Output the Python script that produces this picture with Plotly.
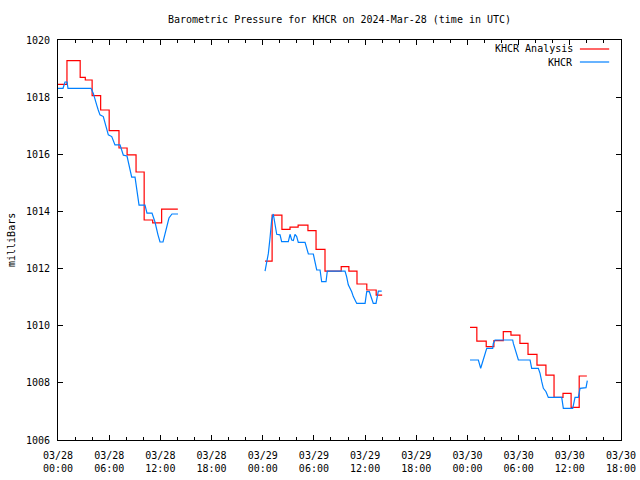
import numpy as np
import plotly.graph_objects as go

# ---- data (hours since 2024-03-28 00:00 UTC, pressure in mb) ----
red_h1 = [0.0, 1.05, 2.6, 3.2, 4.0, 5.0, 6.0, 7.15, 8.1, 9.15, 10.1, 11.1, 12.15, 14.05]
red_v1 = [1018.45, 1019.28, 1018.69, 1018.6, 1018.05, 1017.55, 1016.83, 1016.22, 1015.98, 1015.38, 1013.7, 1013.6, 1014.08, 1014.08]
red_h2 = [24.27, 25.1, 26.25, 27.2, 28.15, 29.3, 30.25, 31.3, 33.2, 34.1, 35.05, 36.2, 37.3, 38.0]
red_v2 = [1012.26, 1013.87, 1013.37, 1013.45, 1013.52, 1013.33, 1012.67, 1011.91, 1012.07, 1011.91, 1011.46, 1011.25, 1011.07, 1011.07]
red_h3 = [48.3, 49.1, 50.2, 51.1, 52.2, 53.1, 54.15, 55.1, 56.15, 57.2, 58.15, 59.2, 60.15, 61.1, 62.0]
red_v3 = [1009.94, 1009.46, 1009.27, 1009.48, 1009.79, 1009.67, 1009.38, 1009.0, 1008.62, 1008.27, 1007.49, 1007.63, 1007.14, 1008.24, 1008.24]

blue_h1 = [0, 0.59, 0.82, 1.06, 1.17, 3.87, 4.14, 4.34, 4.54, 4.72, 4.92, 5.31, 5.51, 5.71, 5.90, 6.30, 6.48,
           6.68, 7.27, 7.66, 8.09, 8.44, 8.64, 9.03, 9.26, 9.50, 10.2, 10.43, 11.02, 11.37, 11.72, 11.96,
           12.31, 12.66, 13.01, 13.36, 14.07]
blue_v1 = [1018.31, 1018.31, 1018.53, 1018.53, 1018.31, 1018.31, 1018.13, 1017.96, 1017.72, 1017.55, 1017.38,
           1017.32, 1017.10, 1016.85, 1016.68, 1016.62, 1016.50, 1016.33, 1016.33, 1015.97, 1015.94, 1015.38,
           1015.20, 1015.20, 1014.68, 1014.22, 1014.22, 1013.94, 1013.94, 1013.63, 1013.18, 1012.93, 1012.93,
           1013.35, 1013.77, 1013.91, 1013.91]
blue_h2 = [24.27, 24.46, 24.66, 24.85, 25.05, 25.24, 25.44, 25.64, 26.03, 26.22, 27.0, 27.2, 27.4, 27.59, 27.78,
           27.98, 28.17, 28.96, 29.35, 29.93, 30.33, 30.72, 30.91, 31.42, 31.57, 33.65, 33.84, 34.03, 34.43,
           34.62, 35.02, 36.0, 36.19, 36.5, 36.96, 37.28, 37.55, 37.95]
blue_v2 = [1011.91, 1012.24, 1012.53, 1013.06, 1013.70, 1013.91, 1013.47, 1013.20, 1013.18, 1012.94, 1012.94,
           1013.20, 1013.0, 1012.98, 1013.20, 1013.12, 1012.92, 1012.92, 1012.51, 1012.51, 1011.95, 1011.95,
           1011.54, 1011.54, 1011.91, 1011.91, 1011.71, 1011.43, 1011.19, 1011.02, 1010.78, 1010.78, 1011.19,
           1011.19, 1010.78, 1010.78, 1011.21, 1011.21]
blue_h3 = [48.30, 49.28, 49.55, 49.86, 50.06, 50.26, 50.96, 51.03, 51.23, 53.30, 53.38, 53.58, 53.78, 53.97,
           55.34, 55.53, 56.31, 56.51, 56.71, 56.90, 57.21, 57.48, 59.05, 59.24, 60.34, 60.61, 61.0, 61.2,
           61.9, 62.05]
blue_v3 = [1008.80, 1008.80, 1008.51, 1008.80, 1009.03, 1009.21, 1009.21, 1009.38, 1009.50, 1009.50, 1009.38,
           1009.21, 1009.03, 1008.80, 1008.80, 1008.51, 1008.51, 1008.33, 1008.04, 1007.81, 1007.69, 1007.49,
           1007.49, 1007.11, 1007.11, 1007.49, 1007.49, 1007.81, 1007.83, 1008.08]

tick_hours = [0, 6, 12, 18, 24, 30, 36, 42, 48, 54, 60, 66]
tick_labels = ["03/28<br>00:00", "03/28<br>06:00", "03/28<br>12:00", "03/28<br>18:00",
               "03/29<br>00:00", "03/29<br>06:00", "03/29<br>12:00", "03/29<br>18:00",
               "03/30<br>00:00", "03/30<br>06:00", "03/30<br>12:00", "03/30<br>18:00"]

title_text = "Barometric Pressure for KHCR on 2024-Mar-28 (time in UTC)"
series_names = ["KHCR Analysis", "KHCR"]
colors = ["#ff0000", "#0080ff"]


def join(segs_h, segs_v):
    xs, ys = [], []
    for h, v in zip(segs_h, segs_v):
        if xs:
            xs.append(None)
            ys.append(None)
        xs += list(h)
        ys += list(v)
    return xs, ys


rx, ry = join([red_h1, red_h2, red_h3], [red_v1, red_v2, red_v3])
bx, by = join([blue_h1, blue_h2, blue_h3], [blue_v1, blue_v2, blue_v3])

FONT = "DejaVu Sans Mono"

fig = go.Figure()
fig.add_trace(go.Scatter(x=rx, y=ry, mode="lines", name=series_names[0], line=dict(color=colors[0], width=1.2, shape="hv"),
                         connectgaps=False, showlegend=False))
fig.add_trace(go.Scatter(x=bx, y=by, mode="lines", name=series_names[1], line=dict(color=colors[1], width=1.2),
                         connectgaps=False, showlegend=False))

axis_common = dict(showline=True, linecolor="black", linewidth=1, mirror="allticks", ticks="inside",
                   tickcolor="black", showgrid=False, zeroline=False, automargin=False,
                   tickfont=dict(family=FONT, size=10, color="black"))

fig.update_xaxes(range=[0, 66], tickmode="array", tickvals=tick_hours, ticktext=tick_labels, ticklen=5,
                 ticklabelstandoff=6,
                 minor=dict(dtick=2, tick0=0, ticks="inside", ticklen=3, tickcolor="black"), **axis_common)
fig.update_yaxes(range=[1006, 1020], dtick=2, tick0=1006, ticklen=5, tickformat="d", ticklabelstandoff=5,
                 **axis_common)

# custom legend (text left of sample line, gnuplot style)
leg_y = [0.9775, 0.945]
for name, col, yy in zip(series_names, colors, leg_y):
    fig.add_annotation(x=0.918, y=yy, xref="paper", yref="paper", text=name, showarrow=False,
                       xanchor="right", yanchor="middle", font=dict(family=FONT, size=10, color="black"))
    fig.add_shape(type="line", xref="paper", yref="paper", x0=0.927, x1=0.979, y0=yy, y1=yy,
                  line=dict(color=col, width=1.2))

fig.add_annotation(x=-0.0835, y=0.5, xref="paper", yref="paper", text="milliBars", textangle=-90,
                   showarrow=False, xanchor="center", yanchor="middle",
                   font=dict(family=FONT, size=10, color="black"))

fig.update_layout(
    width=640, height=480,
    margin=dict(l=58, r=19, t=40, b=40),
    paper_bgcolor="white", plot_bgcolor="white",
    title=dict(text=title_text, x=0.5, xref="paper", y=1 - 19 / 480, yref="container", yanchor="middle",
               font=dict(family=FONT, size=10, color="black")),
    font=dict(family=FONT, size=10, color="black"),
)

fig.write_html("out.html")
